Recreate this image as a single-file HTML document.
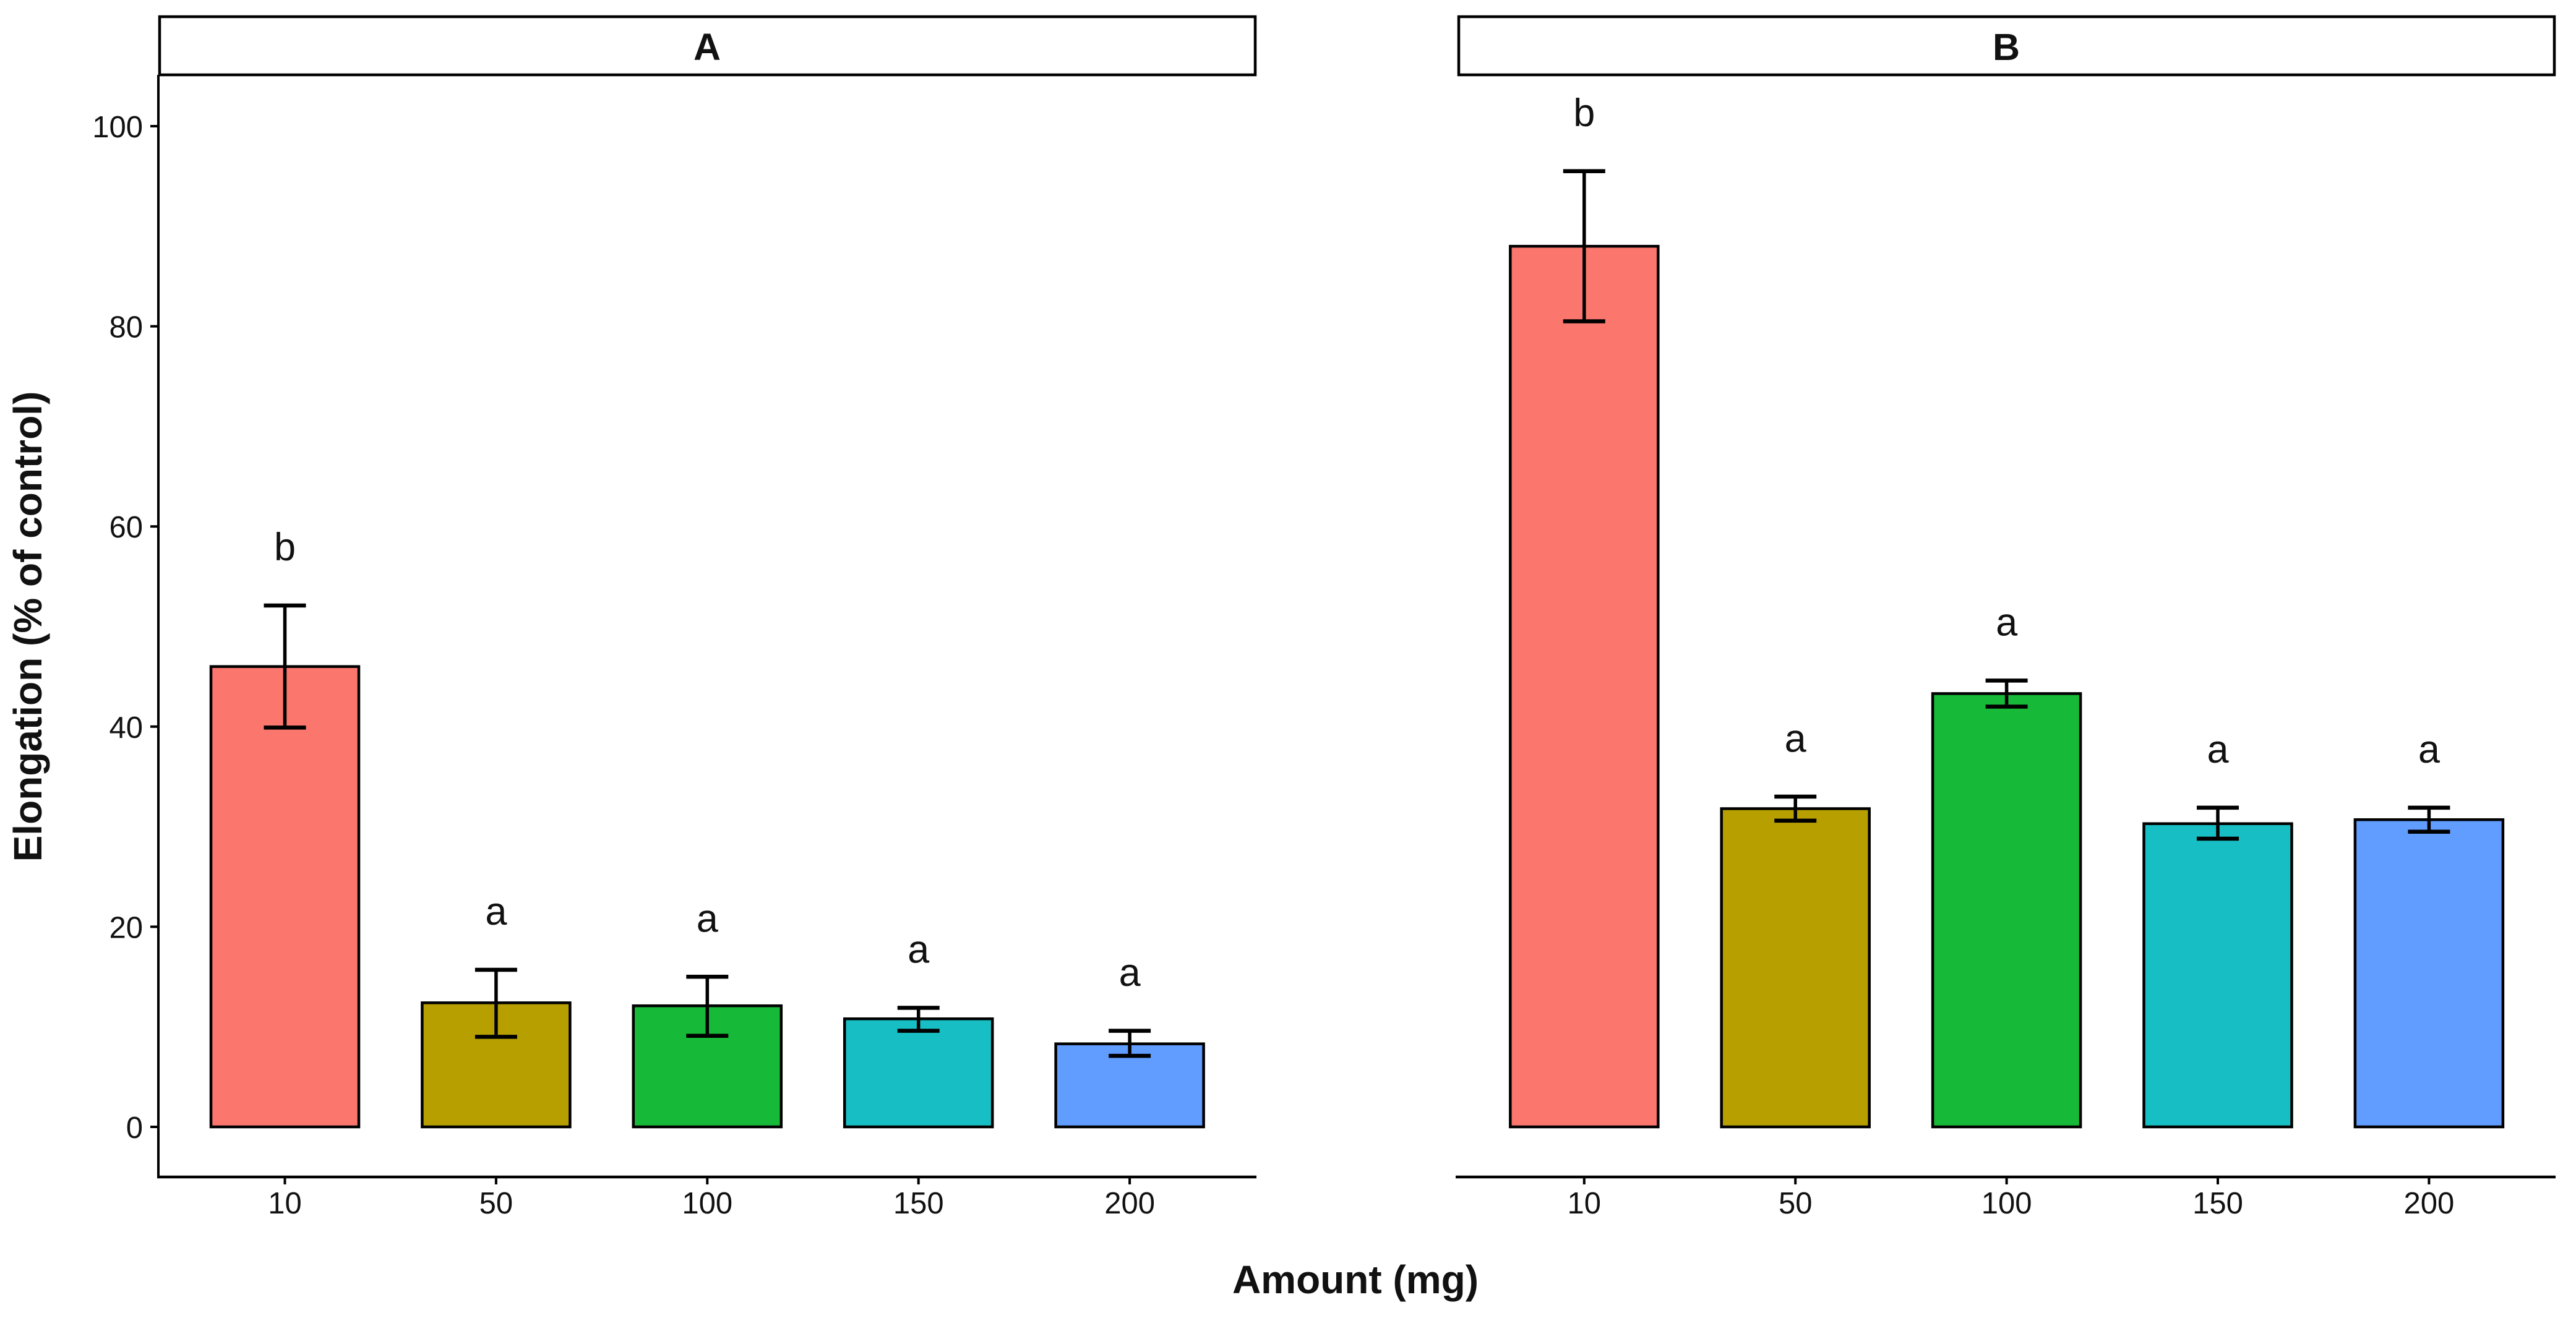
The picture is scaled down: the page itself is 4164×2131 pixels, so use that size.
<!DOCTYPE html>
<html>
<head>
<meta charset="utf-8">
<title>Elongation by amount</title>
<style>
html,body{margin:0;padding:0;background:#fff;width:4164px;height:2131px;overflow:hidden}
svg{display:block}
text{font-family:"Liberation Sans",Arial,sans-serif;fill:#111}
</style>
</head>
<body>
<svg id="chart" xmlns="http://www.w3.org/2000/svg" width="4164" height="2131" viewBox="0 0 4164 2131">
<rect x="0" y="0" width="4164" height="2131" fill="#fff"/>
<rect x="258" y="27" width="1771" height="94" fill="#fff" stroke="#000" stroke-width="4.5"/>
<rect x="2358" y="27" width="1771" height="94" fill="#fff" stroke="#000" stroke-width="4.5"/>
<text x="1143" y="97" font-size="61" font-weight="700" text-anchor="middle">A</text>
<text x="3243" y="97" font-size="61" font-weight="700" text-anchor="middle">B</text>
<text transform="translate(67,1013) rotate(-90)" font-size="64" font-weight="700" text-anchor="middle">Elongation (% of control)</text>
<text x="2191" y="2091" font-size="64" font-weight="700" text-anchor="middle">Amount (mg)</text>
<g id="plot"></g>
</svg>
<script>
const categories = ["10", "50", "100", "150", "200"];
const barColors = ["#FB766D", "#B79F00", "#17BA38", "#17BFC4", "#619CFF"];
const yTicks = [0, 20, 40, 60, 80, 100];

const meansA = [46.0, 12.4, 12.1, 10.8, 8.3];
const upperA = [52.1, 15.7, 15.0, 11.9, 9.6];
const lowerA = [39.9, 9.0, 9.1, 9.6, 7.1];
const lettersA = ["b", "a", "a", "a", "a"];

const meansB = [88.0, 31.8, 43.3, 30.3, 30.7];
const upperB = [95.5, 33.0, 44.6, 31.9, 31.9];
const lowerB = [80.5, 30.6, 42.0, 28.8, 29.5];
const lettersB = ["b", "a", "a", "a", "a"];

const NS = "http://www.w3.org/2000/svg";
const plot = document.getElementById("plot");
const BAND = 341.4;
const BAR_W = 239;
const CAP_W = 68;
const AXIS_Y = 1903;
const LETTER_GAP = 4.5;

function yScale(v) { return 1822 - v * 16.18; }
function xScale(panelStart, i) { return panelStart + i * BAND; }

function make(tag, attrs, text) {
  const el = document.createElementNS(NS, tag);
  for (const k in attrs) el.setAttribute(k, attrs[k]);
  if (text !== undefined) el.textContent = text;
  plot.appendChild(el);
  return el;
}
function lineEl(x1, y1, x2, y2, w) {
  return make("line", { x1: x1, y1: y1, x2: x2, y2: y2, stroke: "#000", "stroke-width": w });
}

function drawPanel(id, start, axisL, axisR, means, upper, lower, letters) {
  const axis = lineEl(axisL, AXIS_Y, axisR, AXIS_Y, 4.5);
  
  

  categories.forEach(function (cat, i) {
    const cx = xScale(start, i);
    const top = yScale(means[i]);
    const bar = make("rect", {
      x: cx - BAR_W / 2, y: top, width: BAR_W, height: yScale(0) - top,
      fill: barColors[i], stroke: "#000", "stroke-width": 4.5
    });
    
    

    const stem = lineEl(cx, yScale(upper[i]), cx, yScale(lower[i]), 5.5);
    
    

    const capTop = lineEl(cx - CAP_W / 2, yScale(upper[i]), cx + CAP_W / 2, yScale(upper[i]), 6.5);
    
    

    const capLow = lineEl(cx - CAP_W / 2, yScale(lower[i]), cx + CAP_W / 2, yScale(lower[i]), 6.5);
    
    

    const letter = make("text", {
      x: cx, y: yScale(upper[i] + LETTER_GAP), "font-size": 63, "text-anchor": "middle"
    }, letters[i]);
    
    

    const tick = lineEl(cx, AXIS_Y, cx, 1915, 4);
    
    

    const label = make("text", {
      x: cx, y: 1962, "font-size": 49, "text-anchor": "middle"
    }, cat);
    
    
  });
}

const yAxisLine = lineEl(256, 121, 256, 1905, 4);



yTicks.forEach(function (t) {
  const y = yScale(t);
  const tick = lineEl(243, y, 256, y, 4);
  
  
  const label = make("text", {
    x: 231, y: y + 18, "font-size": 49, "text-anchor": "end"
  }, String(t));
  
  
});

drawPanel("a", 460.5, 254, 2031, meansA, upperA, lowerA, lettersA);
drawPanel("b", 2560.8, 2353, 4131, meansB, upperB, lowerB, lettersB);
</script>
</body>
</html>
